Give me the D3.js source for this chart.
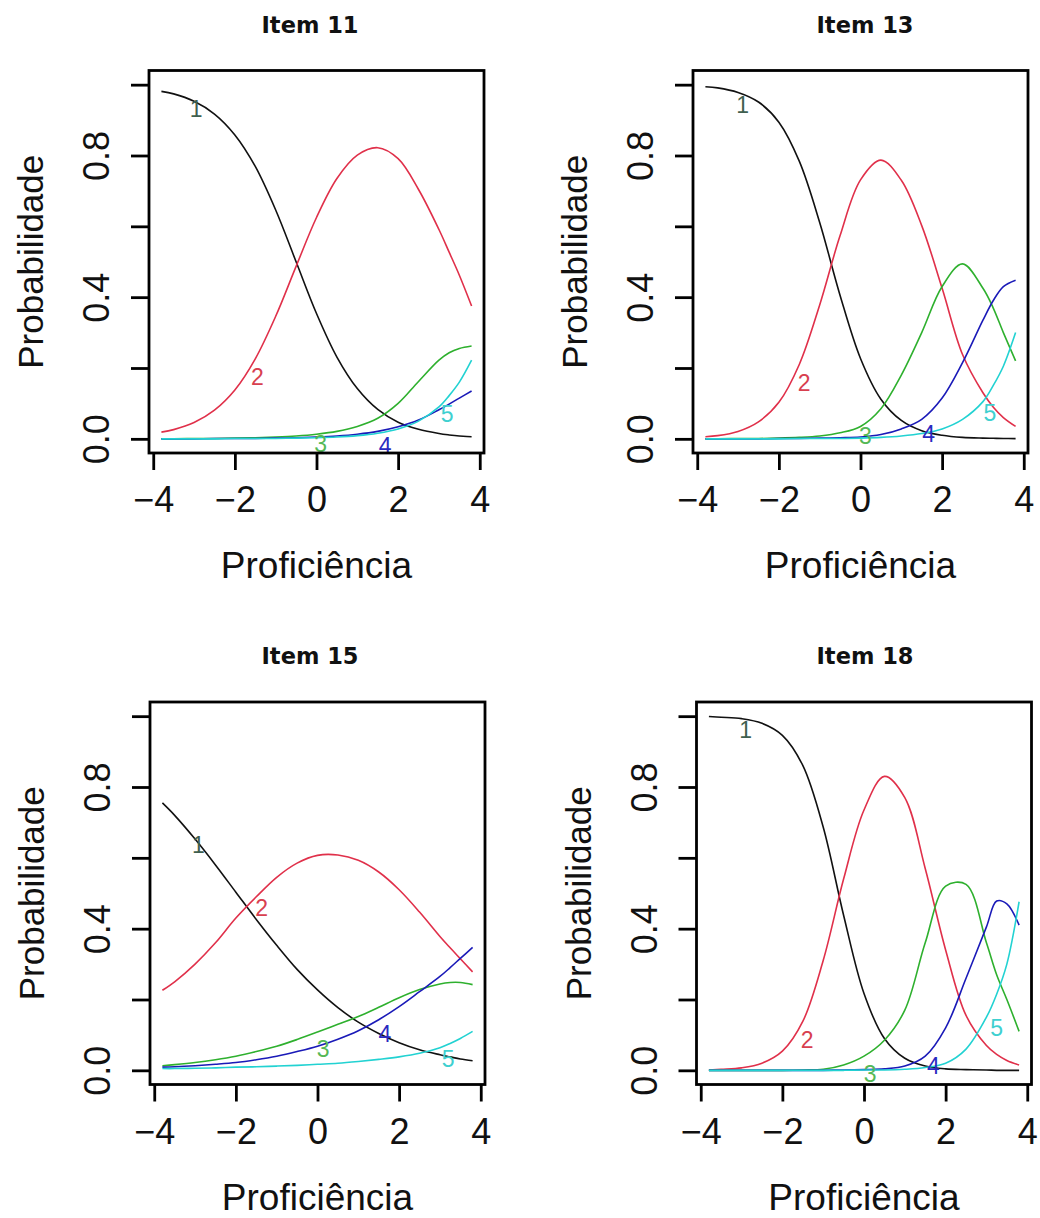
<!DOCTYPE html>
<html><head><meta charset="utf-8">
<script src="https://cdn.jsdelivr.net/npm/d3@7"></script>
<style>body{margin:0;background:#fff}svg{display:block}</style>
</head><body><svg id="c" width="1040" height="1218"></svg>
<script>
// Proficiency grid (theta)
const theta = [-3.8,-3.5,-3,-2.5,-2,-1.5,-1,-0.5,0,0.5,1,1.5,2,2.5,3,3.25,3.5,3.8];
const categories = ["1","2","3","4","5"];
const titles = ["Item 11","Item 13","Item 15","Item 18"];
const xTicks = [-4,-2,0,2,4];
const yTicks = [0,0.2,0.4,0.6,0.8,1.0];
const yTickLabels = {"0":"0.0","0.4":"0.4","0.8":"0.8"};

// Item 11
const item11_c1 = [0.981,0.974,0.953,0.917,0.858,0.769,0.646,0.500,0.354,0.231,0.142,0.083,0.047,0.027,0.015,0.011,0.008,0.006];
const item11_c2 = [0.019,0.026,0.046,0.081,0.138,0.226,0.346,0.487,0.625,0.735,0.801,0.822,0.791,0.704,0.591,0.527,0.462,0.375];
const item11_c3 = [0.000,0.000,0.001,0.001,0.002,0.003,0.005,0.008,0.013,0.021,0.035,0.058,0.100,0.162,0.222,0.243,0.255,0.262];
const item11_c4 = [0.000,0.000,0.000,0.001,0.001,0.001,0.002,0.003,0.005,0.008,0.013,0.021,0.034,0.053,0.082,0.098,0.115,0.135];
const item11_c5 = [0.000,0.000,0.000,0.000,0.001,0.001,0.001,0.002,0.003,0.005,0.009,0.016,0.028,0.050,0.090,0.122,0.160,0.222];
const item11_labelX = [-2.95,-1.45,0.1,1.68,3.2];
const item11_labelY = [0.93,0.175,-0.015,-0.02,0.07];

// Item 13
const item13_c1 = [0.994,0.991,0.978,0.951,0.894,0.784,0.611,0.405,0.227,0.112,0.052,0.023,0.010,0.004,0.002,0.0015,0.001,0.0005];
const item13_c2 = [0.006,0.009,0.021,0.048,0.103,0.210,0.378,0.574,0.731,0.787,0.730,0.602,0.425,0.238,0.130,0.090,0.060,0.035];
const item13_c3 = [0.000,0.000,0.001,0.001,0.002,0.004,0.008,0.017,0.035,0.085,0.180,0.300,0.430,0.494,0.425,0.370,0.300,0.220];
const item13_c4 = [0.000,0.000,0.000,0.000,0.001,0.001,0.002,0.003,0.005,0.012,0.028,0.055,0.115,0.215,0.335,0.390,0.430,0.448];
const item13_c5 = [0.000,0.000,0.000,0.000,0.000,0.001,0.001,0.001,0.002,0.004,0.008,0.015,0.028,0.055,0.105,0.150,0.205,0.300];
const item13_labelX = [-2.89,-1.38,0.12,1.67,3.17];
const item13_labelY = [0.943,0.159,0.008,0.013,0.072];

// Item 15
const item15_c1 = [0.755,0.720,0.653,0.580,0.503,0.426,0.353,0.285,0.227,0.177,0.136,0.104,0.078,0.058,0.044,0.038,0.032,0.027];
const item15_c2 = [0.226,0.250,0.300,0.360,0.430,0.490,0.545,0.585,0.607,0.608,0.593,0.560,0.510,0.447,0.378,0.346,0.315,0.278];
const item15_c3 = [0.013,0.016,0.022,0.030,0.040,0.053,0.068,0.087,0.108,0.130,0.152,0.178,0.205,0.228,0.244,0.248,0.248,0.242];
const item15_c4 = [0.009,0.010,0.013,0.017,0.022,0.030,0.040,0.053,0.068,0.088,0.112,0.143,0.180,0.222,0.265,0.290,0.316,0.347];
const item15_c5 = [0.005,0.005,0.006,0.007,0.009,0.010,0.012,0.014,0.017,0.020,0.025,0.031,0.038,0.048,0.064,0.076,0.090,0.110];
const item15_labelX = [-2.92,-1.37,0.14,1.65,3.2];
const item15_labelY = [0.636,0.458,0.059,0.102,0.032];

// Item 18
const item18_c1 = [0.999,0.997,0.993,0.980,0.946,0.861,0.687,0.438,0.217,0.090,0.034,0.012,0.004,0.002,0.001,0.000,0.000,0.000];
const item18_c2 = [0.001,0.003,0.007,0.020,0.054,0.138,0.310,0.540,0.735,0.830,0.770,0.570,0.340,0.155,0.070,0.045,0.028,0.015];
const item18_c3 = [0.000,0.000,0.000,0.000,0.000,0.001,0.003,0.015,0.040,0.085,0.170,0.360,0.520,0.525,0.360,0.270,0.200,0.110];
const item18_c4 = [0.000,0.000,0.000,0.000,0.000,0.000,0.000,0.001,0.002,0.004,0.012,0.040,0.120,0.260,0.405,0.478,0.470,0.410];
const item18_c5 = [0.000,0.000,0.000,0.000,0.000,0.000,0.000,0.000,0.001,0.001,0.003,0.008,0.020,0.060,0.150,0.215,0.300,0.476];
const item18_labelX = [-2.9,-1.39,0.15,1.7,3.25];
const item18_labelY = [0.962,0.086,-0.011,0.011,0.119];

const items = [
  {title: titles[0], curves: [item11_c1,item11_c2,item11_c3,item11_c4,item11_c5], lx: item11_labelX, ly: item11_labelY},
  {title: titles[1], curves: [item13_c1,item13_c2,item13_c3,item13_c4,item13_c5], lx: item13_labelX, ly: item13_labelY},
  {title: titles[2], curves: [item15_c1,item15_c2,item15_c3,item15_c4,item15_c5], lx: item15_labelX, ly: item15_labelY},
  {title: titles[3], curves: [item18_c1,item18_c2,item18_c3,item18_c4,item18_c5], lx: item18_labelX, ly: item18_labelY}
];

const lineColors = ["#111111","#e0304a","#2eb02e","#1a1ab8","#22d2d2"];
const labelColors = ["#3f5f4f","#d8404f","#55b855","#2a2ac0","#3fd0d0"];

// layout
const panels = [
  {left:149, top:70.5, titleX:310},
  {left:693, top:70.5, titleX:865},
  {left:150, top:702, titleX:310},
  {left:696.5, top:702, titleX:865}
];
const W = 335, H = 382.5;
const svg = d3.select("#c");
const FONT = "'Liberation Sans', Arial, sans-serif";

items.forEach((it, i) => {
  const p = panels[i];
  const x = d3.scaleLinear().domain([-4.104, 4.104]).range([p.left, p.left + W]);
  const y = d3.scaleLinear().domain([-0.04, 1.04]).range([p.top + H, p.top]);
  const g = svg.append("g");

  // title
  g.append("text").attr("x", p.titleX).attr("y", p.top - 38)
    .attr("text-anchor","middle").attr("font-family","'DejaVu Sans', sans-serif")
    .attr("font-weight","bold").attr("font-size",22.5).attr("fill","#111").text(it.title);

  // curves
  const line = d3.line().x((d,k) => x(theta[k])).y(d => y(d)).curve(d3.curveCatmullRom.alpha(0.5));
  it.curves.forEach((c, j) => {
    g.append("path").attr("d", line(c)).attr("fill","none")
      .attr("stroke", lineColors[j]).attr("stroke-width",1.6);
  });

  // curve labels
  categories.forEach((lab, j) => {
    g.append("text").attr("x", x(it.lx[j])).attr("y", y(it.ly[j]))
      .attr("text-anchor","middle").attr("dominant-baseline","central")
      .attr("font-family", FONT).attr("font-size",23).attr("fill", labelColors[j]).text(lab);
  });

  // box
  g.append("rect").attr("x", p.left).attr("y", p.top).attr("width", W).attr("height", H)
    .attr("fill","none").attr("stroke","#000").attr("stroke-width",2.8);

  // x axis
  const xa = d3.axisBottom(x).tickValues(xTicks).tickSize(17).tickPadding(19)
    .tickFormat(d => d < 0 ? "\u2212" + Math.abs(d) : String(d));
  const gx = g.append("g").attr("transform", `translate(0,${p.top + H})`).call(xa);
  gx.select(".domain").remove();
  gx.selectAll(".tick line").attr("stroke","#000").attr("stroke-width",2.8);
  gx.selectAll(".tick text").attr("font-family", FONT).attr("font-size",36).attr("fill","#111")
    .attr("dy","0").attr("y", 59);

  // y axis
  const ya = d3.axisLeft(y).tickValues(yTicks).tickSize(18).tickFormat(() => "");
  const gy = g.append("g").attr("transform", `translate(${p.left},0)`).call(ya);
  gy.select(".domain").remove();
  gy.selectAll(".tick line").attr("stroke","#000").attr("stroke-width",2.8);
  gy.selectAll(".tick").each(function(d){
    const key = String(Math.round(d*10)/10);
    const lab = yTickLabels[key];
    if (lab) {
      d3.select(this).append("text")
        .attr("transform", `translate(-40,0) rotate(-90)`)
        .attr("text-anchor","middle").attr("font-family", FONT).attr("font-size",36)
        .attr("fill","#111").text(lab);
    }
  });

  // axis titles
  g.append("text").attr("x", p.left + W/2).attr("y", p.top + H + 125)
    .attr("text-anchor","middle").attr("font-family", FONT).attr("font-size",37)
    .attr("fill","#111").text("Proficiência");
  g.append("text").attr("transform", `translate(${p.left - 106},${p.top + H/2}) rotate(-90)`)
    .attr("text-anchor","middle").attr("font-family", FONT).attr("font-size",35)
    .attr("fill","#111").text("Probabilidade");
});
</script>
</body></html>
